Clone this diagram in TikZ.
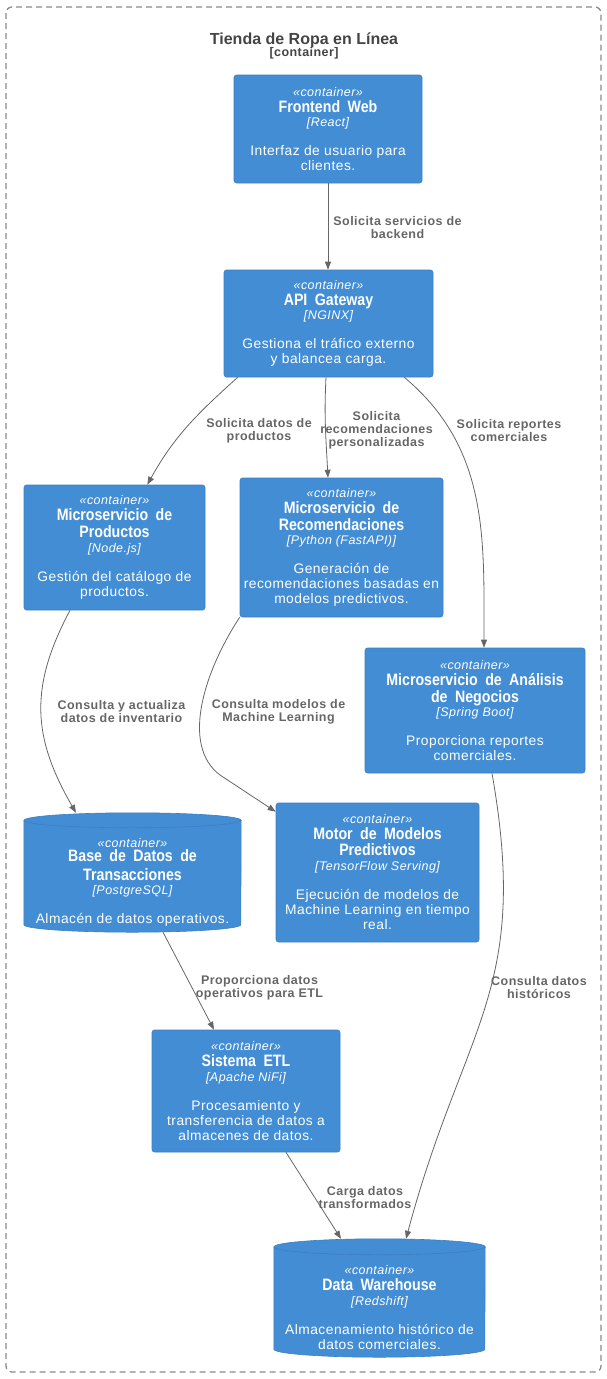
\documentclass[tikz,border=0pt]{standalone}
\usepackage{fontspec}
\setmainfont{Liberation Sans}
\newfontfamily\spacedfont[LetterSpace=3.5]{Liberation Sans}
\newfontfamily\condfont[FakeStretch=0.86]{Liberation Sans}
\usepackage{tikz}
\usetikzlibrary{arrows.meta, backgrounds}

\definecolor{c4blue}{HTML}{438DD5}
\definecolor{c4line}{HTML}{3C7FC0}
\definecolor{relgray}{HTML}{666666}
\definecolor{titlegray}{HTML}{444444}
\definecolor{framegray}{HTML}{8A8A8A}

\newcommand\stereo{{\spacedfont\itshape\fontsize{12.5}{14}\selectfont «container»}}
\newcommand\ctitle[1]{{\condfont\bfseries\fontsize{16.5}{17}\selectfont\spaceskip=0.45em #1}}
\newcommand\ctech[1]{{\spacedfont\itshape\fontsize{12.5}{14}\selectfont [#1]}}
\newcommand\cylpad{\rule{0pt}{28pt}}

\begin{document}
\begin{tikzpicture}[x=1pt, y=1pt,
    container/.style={rectangle, rounded corners=2.5pt, fill=c4blue, draw=c4line, line width=0.6pt,
      text=white, align=center, inner sep=0pt, font=\spacedfont\fontsize{13.8}{15}\selectfont},
    cylnode/.style={rectangle, align=center, text=white, inner sep=0pt,
      font=\spacedfont\fontsize{13.8}{15}\selectfont},
    cylbody/.style={fill=c4blue, draw=c4line, line width=0.6pt},
    cylrim/.style={draw=c4line, line width=0.6pt},
    rel/.style={draw=relgray, line width=0.8pt, -{Triangle[length=8pt,width=6pt]}},
    rellabel/.style={text=relgray, align=center, inner sep=0pt,
      font=\spacedfont\bfseries\fontsize{12.5}{13}\selectfont},
    frame/.style={draw=framegray, line width=1.3pt, dash pattern=on 6pt off 4pt, rounded corners=6pt}]
  \useasboundingbox (0,0) rectangle (607,-1379);
  \draw[frame] (6,-7) rectangle (601,-1372);
  \node[anchor=base, text=titlegray, font=\bfseries\fontsize{16}{18}\selectfont] (shop) at (304,-44) {Tienda de Ropa en Línea};
  \node[anchor=base, text=titlegray, font=\spacedfont\bfseries\fontsize{12.5}{14}\selectfont] (shoptype) at (304,-56) {[container]};

  \node[container, minimum width=188, minimum height=108] (front) at (328,-129)
    {\stereo\\[1pt]\ctitle{Frontend Web}\\[-0.5pt]\ctech{React}\\[14pt]Interfaz de usuario para\\clientes.};
  \node[container, minimum width=209, minimum height=107] (api) at (328.5,-323.5)
    {\stereo\\[1pt]\ctitle{API Gateway}\\[-0.5pt]\ctech{NGINX}\\[14pt]Gestiona el tráfico externo\\y balancea carga.};
  \node[container, minimum width=181, minimum height=125] (prod) at (114.5,-547.5)
    {\stereo\\[1pt]\ctitle{Microservicio de}\\[2pt]\ctitle{Productos}\\[-0.5pt]\ctech{Node.js}\\[14pt]Gestión del catálogo de\\productos.};
  \node[container, minimum width=203, minimum height=139] (rec) at (341.5,-547.5)
    {\stereo\\[1pt]\ctitle{Microservicio de}\\[2pt]\ctitle{Recomendaciones}\\[-0.5pt]\ctech{Python (FastAPI)}\\[14pt]Generación de\\recomendaciones basadas en\\modelos predictivos.};
  \node[container, minimum width=220, minimum height=125] (ana) at (475,-710.5)
    {\stereo\\[1pt]\ctitle{Microservicio de Análisis}\\[2pt]\ctitle{de Negocios}\\[-0.5pt]\ctech{Spring Boot}\\[14pt]Proporciona reportes\\comerciales.};
  \node[cylnode, minimum width=217, minimum height=119] (bd) at (132.5,-872.5)
    {\cylpad\stereo\\[-1pt]\ctitle{Base de Datos de}\\[4pt]\ctitle{Transacciones}\\[-1pt]\ctech{PostgreSQL}\\[14pt]Almacén de datos operativos.};
  \node[container, minimum width=203, minimum height=139] (motor) at (377.5,-872.5)
    {\stereo\\[1pt]\ctitle{Motor de Modelos}\\[1pt]\ctitle{Predictivos}\\[0pt]\ctech{TensorFlow Serving}\\[14pt]Ejecución de modelos de\\Machine Learning en tiempo\\real.};
  \node[container, minimum width=188, minimum height=122] (etl) at (246,-1091)
    {\stereo\\[1pt]\ctitle{Sistema ETL}\\[-0.5pt]\ctech{Apache NiFi}\\[14pt]Procesamiento y\\transferencia de datos a\\almacenes de datos.};
  \node[cylnode, minimum width=211, minimum height=118] (dw) at (379.5,-1298)
    {\cylpad\stereo\\[1pt]\ctitle{Data Warehouse}\\[-0.5pt]\ctech{Redshift}\\[14pt]Almacenamiento histórico de\\datos comerciales.};

  \begin{scope}[on background layer]
    \path[cylbody] ([yshift=-7.5pt]bd.north west) -- ([yshift=7.5pt]bd.south west)
      arc[start angle=180, end angle=360, x radius=108.5pt, y radius=7.5pt]
      -- ([yshift=-7.5pt]bd.north east)
      arc[start angle=0, end angle=180, x radius=108.5pt, y radius=7.5pt] -- cycle;
    \draw[cylrim] ([yshift=-7.5pt]bd.north west) arc[start angle=180, end angle=360, x radius=108.5pt, y radius=7.5pt];
    \path[cylbody] ([yshift=-8pt]dw.north west) -- ([yshift=8pt]dw.south west)
      arc[start angle=180, end angle=360, x radius=105.5pt, y radius=8pt]
      -- ([yshift=-8pt]dw.north east)
      arc[start angle=0, end angle=180, x radius=105.5pt, y radius=8pt] -- cycle;
    \draw[cylrim] ([yshift=-8pt]dw.north west) arc[start angle=180, end angle=360, x radius=105.5pt, y radius=8pt];
  \end{scope}

  \draw[rel] (front.south) -- (front.south |- api.north);
  \draw[rel] ([xshift=14pt]api.south west) to[out=-138, in=61] ([xshift=-58pt]prod.north east);
  \draw[rel] ([xshift=-2.5pt]api.south) to[out=-93, in=93] ([xshift=-13.5pt]rec.north);
  \draw[rel] ([xshift=-29pt]api.south east) to[out=-40, in=90] ([xshift=9pt]ana.north);
  \draw[rel] ([xshift=-44.5pt]prod.south) to[out=-118, in=120, looseness=1.1] ([xshift=-56.5pt]bd.north);
  \draw[rel] (rec.south west) .. controls (205,-670) and (180,-745) .. (220,-775) -- ([yshift=-9pt]motor.north west);
  \draw[rel] ([xshift=17pt]ana.south) to[out=-80, in=75, looseness=1.2] ([xshift=26.5pt]dw.north);
  \draw[rel] ([xshift=30.5pt]bd.south) -- ([xshift=-32pt]etl.north);
  \draw[rel] ([xshift=40pt]etl.south) -- ([xshift=-38.5pt]dw.north);

  \node[rellabel] (lbackend) at (397.5,-228) {Solicita servicios de\\backend};
  \node[rellabel] (lprod) at (259,-430.5) {Solicita datos de\\productos};
  \node[rellabel] (lrec) at (376.5,-430) {Solicita\\recomendaciones\\personalizadas};
  \node[rellabel] (lana) at (509,-430.5) {Solicita reportes\\comerciales};
  \node[rellabel] (linv) at (121.5,-712) {Consulta y actualiza\\datos de inventario};
  \node[rellabel] (lml) at (278.5,-712) {Consulta modelos de\\Machine Learning};
  \node[rellabel] (letl) at (259.5,-988) {Proporciona datos\\operativos para ETL};
  \node[rellabel] (lhist) at (539,-988) {Consulta datos\\históricos};
  \node[rellabel] (lload) at (365,-1198) {Carga datos\\transformados};
\end{tikzpicture}
\end{document}
